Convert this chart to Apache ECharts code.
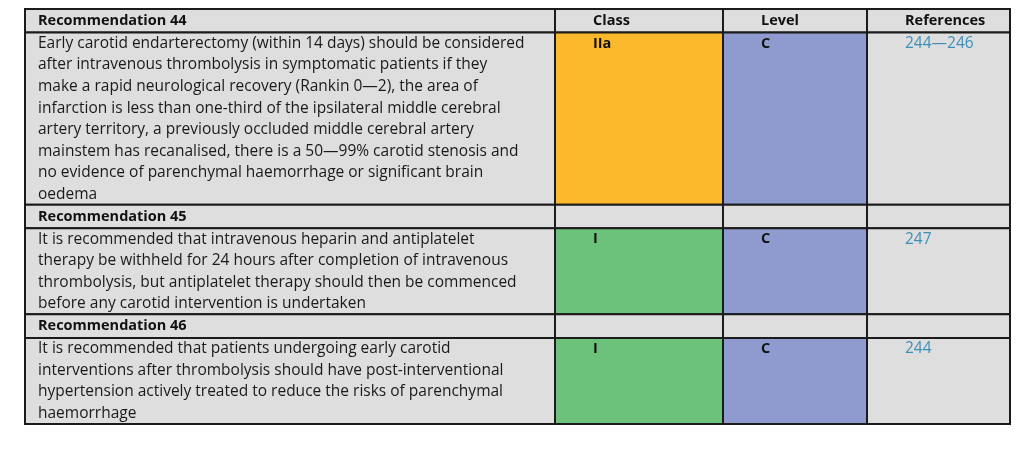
<!DOCTYPE html>
<html>
<head>
<meta charset="utf-8">
<script src="https://cdn.jsdelivr.net/npm/echarts@6/dist/echarts.min.js"></script>
<style>
html, body { margin: 0; background: #fff; }
#chart { width: 1024px; height: 459px; }
</style>
</head>
<body>
<div id="chart"></div>
<script>
// table content
const columnTitles = ['Class', 'Level', 'References'];
const recTitles = ['Recommendation 44', 'Recommendation 45', 'Recommendation 46'];
const recLines = [
    [
        'Early carotid endarterectomy (within 14 days) should be considered',
        'after intravenous thrombolysis in symptomatic patients if they',
        'make a rapid neurological recovery (Rankin 0\u20142), the area of',
        'infarction is less than one-third of the ipsilateral middle cerebral',
        'artery territory, a previously occluded middle cerebral artery',
        'mainstem has recanalised, there is a 50\u201499% carotid stenosis and',
        'no evidence of parenchymal haemorrhage or significant brain',
        'oedema'
    ],
    [
        'It is recommended that intravenous heparin and antiplatelet',
        'therapy be withheld for 24 hours after completion of intravenous',
        'thrombolysis, but antiplatelet therapy should then be commenced',
        'before any carotid intervention is undertaken'
    ],
    [
        'It is recommended that patients undergoing early carotid',
        'interventions after thrombolysis should have post-interventional',
        'hypertension actively treated to reduce the risks of parenchymal',
        'haemorrhage'
    ]
];
const classes = ['IIa', 'I', 'I'];
const levels = ['C', 'C', 'C'];
const references = ['244\u2014246', '247', '244'];

const classColors = { 'IIa': '#FBB92B', 'I': '#6CC27A' };
const levelColors = { 'C': '#8F9BCE' };
const cellGrey = '#DEDEDE';
const refColor = '#3D8FB8';

const colEdges = [0, 530, 698, 842, 985];
const lineH = 21.5, headH = 23.5;
const fontFamily = '"Open Sans", sans-serif';

// rows: header line + body per recommendation
let rows = [];
let yPos = 0;
recTitles.forEach((t, i) => {
    rows.push({ kind: 'head', rec: i, y0: yPos, y1: yPos + headH });
    yPos += headH;
    const h = recLines[i].length * lineH;
    rows.push({ kind: 'body', rec: i, y0: yPos, y1: yPos + h });
    yPos += h;
});
const totalH = yPos;

let cells = [];
rows.forEach((r, ri) => {
    for (let c = 0; c < 4; c++) {
        cells.push([colEdges[c], colEdges[c + 1], r.y0, r.y1, ri, c]);
    }
});

function cellFill(row, c) {
    if (row.kind === 'body') {
        if (c === 1) return classColors[classes[row.rec]];
        if (c === 2) return levelColors[levels[row.rec]];
    }
    return cellGrey;
}

function cellText(row, c) {
    if (row.kind === 'head') {
        if (c === 0) return { lines: [recTitles[row.rec]], bold: true, color: '#111' };
        if (row.rec === 0) return { lines: [columnTitles[c - 1]], bold: true, color: '#111' };
        return null;
    }
    if (c === 0) return { lines: recLines[row.rec], bold: false, color: '#1a1a1a' };
    if (c === 1) return { lines: [classes[row.rec]], bold: true, color: '#111' };
    if (c === 2) return { lines: [levels[row.rec]], bold: true, color: '#111' };
    return { lines: [references[row.rec]], bold: false, color: refColor };
}

function renderItem(params, api) {
    const row = rows[api.value(4)];
    const c = api.value(5);
    const p0 = api.coord([api.value(0), api.value(2)]);
    const p1 = api.coord([api.value(1), api.value(3)]);
    const children = [{
        type: 'rect',
        shape: { x: p0[0], y: p0[1], width: p1[0] - p0[0], height: p1[1] - p0[1] },
        style: { fill: cellFill(row, c), stroke: '#1b1b1b', lineWidth: 2 }
    }];
    const t = cellText(row, c);
    if (t) {
        const tx = p0[0] + (c === 0 ? 13 : 38);
        const lh = row.kind === 'head' ? 0 : lineH * (p1[1] - p0[1]) / (row.y1 - row.y0);
        const size = t.bold ? 14.5 : 15.5;
        t.lines.forEach((ln, k) => {
            children.push({
                type: 'text',
                style: {
                    x: tx,
                    y: p0[1] + (row.kind === 'head' ? 12 : 11 + k * lh),
                    text: ln,
                    fill: t.color,
                    font: (t.bold ? 'bold ' : '') + size + 'px ' + fontFamily,
                    align: 'left',
                    verticalAlign: 'middle'
                }
            });
        });
    }
    return { type: 'group', children: children };
}

const chart = echarts.init(document.getElementById('chart'));
chart.setOption({
    animation: false,
    grid: { left: 25, right: 14, top: 9, bottom: 35 },
    xAxis: { type: 'value', min: 0, max: colEdges[colEdges.length - 1], show: false },
    yAxis: { type: 'value', min: 0, max: totalH, inverse: true, show: false },
    series: [{
        type: 'custom',
        renderItem: renderItem,
        clip: false,
        encode: { x: [0, 1], y: [2, 3] },
        data: cells
    }]
});
</script>
</body>
</html>
